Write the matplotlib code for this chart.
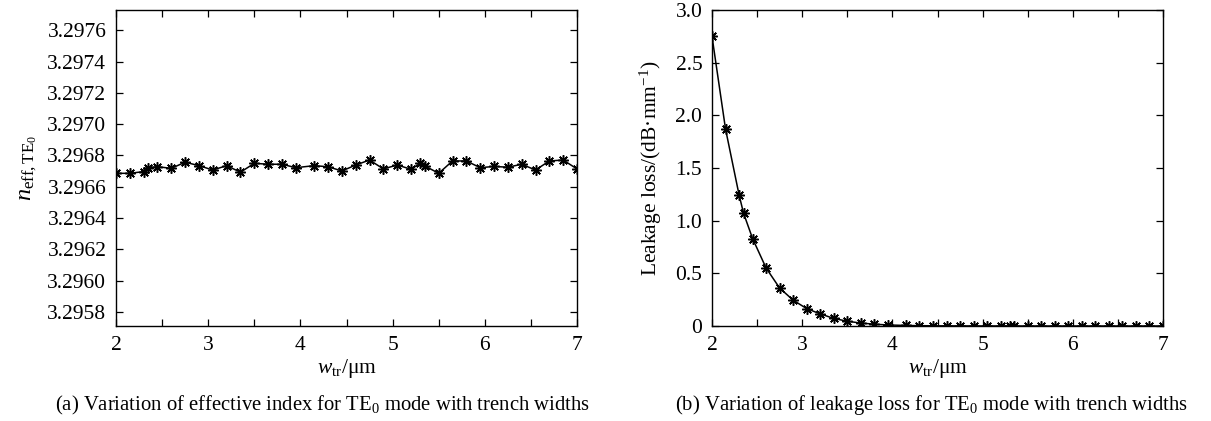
import numpy as np
import matplotlib
matplotlib.use("Agg")
from matplotlib import pyplot as plt
from matplotlib.ticker import MultipleLocator, FixedLocator

# trench widths (um)
w_tr = [2.0, 2.15, 2.3, 2.35, 2.45, 2.6, 2.75, 2.9, 3.05, 3.2, 3.35, 3.5,
        3.65, 3.8, 3.95, 4.15, 4.3, 4.45, 4.6, 4.75, 4.9, 5.05, 5.2, 5.3,
        5.35, 5.5, 5.65, 5.8, 5.95, 6.1, 6.25, 6.4, 6.55, 6.7, 6.85, 7.0]

# effective index of TE0
n_eff = [3.296686, 3.296686, 3.296697, 3.296722, 3.296728, 3.296718, 3.296757,
         3.296735, 3.296707, 3.296735, 3.296693, 3.296750, 3.296744, 3.296744,
         3.296722, 3.296735, 3.296728, 3.296701, 3.296739, 3.296771, 3.296714,
         3.296739, 3.296712, 3.296750, 3.296733, 3.296686, 3.296765, 3.296765,
         3.296722, 3.296730, 3.296725, 3.296744, 3.296707, 3.296765, 3.296771,
         3.296714]

# leakage loss (dB/mm)
loss = [2.75, 1.87, 1.245, 1.07, 0.83, 0.55, 0.36, 0.245, 0.165, 0.115, 0.072,
        0.045, 0.028, 0.017, 0.010, 0.005, 0.003, 0.002, 0.001, 0.001, 0.0005,
        0.0003, 0.0002, 0.0001, 0.0001, 0.0, 0.0, 0.0, 0.0, 0.0, 0.0, 0.0,
        0.0, 0.0, 0.0, 0.0]

yticks_a = [3.2958, 3.2960, 3.2962, 3.2964, 3.2966, 3.2968, 3.2970, 3.2972, 3.2974, 3.2976]
yticks_b = [0, 0.5, 1.0, 1.5, 2.0, 2.5, 3.0]
ylabels_b = ["0", "0.5", "1.0", "1.5", "2.0", "2.5", "3.0"]
xticks = [2, 3, 4, 5, 6, 7]

plt.rcParams['font.family'] = ['Liberation Serif', 'DejaVu Serif']
plt.rcParams['mathtext.fontset'] = 'custom'
plt.rcParams['mathtext.rm'] = 'Liberation Serif'
plt.rcParams['mathtext.it'] = 'Liberation Serif:italic'
plt.rcParams['mathtext.bf'] = 'Liberation Serif:bold'

fs = 15.5
asterisk = (8, 2, 0)

fig = plt.figure(figsize=(12.11, 4.21), dpi=100)
ax_a = fig.add_axes([116/1211, 95/421, 461/1211, 316/421])
ax_b = fig.add_axes([712/1211, 95/421, 451/1211, 316/421])

ax_a.plot(w_tr, n_eff, color="black", lw=1.1, marker=asterisk, ms=7.5, mew=1.1)
ax_b.plot(w_tr, loss, color="black", lw=1.1, marker=asterisk, ms=7.5, mew=1.1)

for ax in (ax_a, ax_b):
    ax.set_xlim(2, 7)
    ax.xaxis.set_major_locator(FixedLocator(xticks))
    ax.xaxis.set_minor_locator(MultipleLocator(0.5))
    ax.tick_params(which="both", direction="in", top=True, right=True,
                   length=5, width=0.9, labelsize=fs, pad=7)
    for s in ax.spines.values():
        s.set_linewidth(1.0)
    ax.set_xlabel(r"$w_{\mathrm{tr}}$/μm", fontsize=fs, labelpad=2)

ax_a.set_ylim(3.29571, 3.29773)
ax_a.set_yticks(yticks_a)
ax_a.set_yticklabels([f"{v:.4f}" for v in yticks_a])
ax_a.set_ylabel(r"$n_{\mathrm{eff,TE_0}}$", fontsize=fs + 2, labelpad=6)

ax_b.set_ylim(0, 3.0)
ax_b.set_yticks(yticks_b)
ax_b.set_yticklabels(ylabels_b)
ax_b.set_ylabel(r"Leakage loss/(dB·mm$^{-1}$)", fontsize=fs, labelpad=8)

fig.text(322/1211, 1 - 405/421,
         r"(a) Variation of effective index for TE$_0$ mode with trench widths",
         ha="center", va="center", fontsize=14.9)
fig.text(932/1211, 1 - 405/421,
         r"(b) Variation of leakage loss for TE$_0$ mode with trench widths",
         ha="center", va="center", fontsize=14.9)

fig.savefig("out.png", dpi=100)
